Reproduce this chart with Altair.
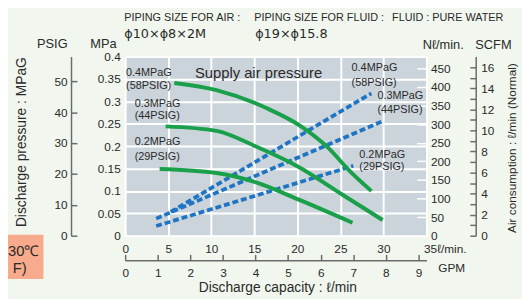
import altair as alt
import pandas as pd

# ---------------- data ----------------
# discharge pressure curves: discharge capacity (l/min) -> discharge pressure (MPa)
q_04 = [5.7, 10.6, 16.4, 20.6, 23.6, 25.8, 28.6]
p_04 = [0.341, 0.325, 0.285, 0.242, 0.196, 0.150, 0.100]
q_03 = [4.7, 10.6, 15.2, 20.1, 25.2, 29.9]
p_03 = [0.244, 0.234, 0.199, 0.154, 0.092, 0.035]
q_02 = [4.0, 10.6, 15.2, 20.1, 26.4]
p_02 = [0.149, 0.140, 0.119, 0.081, 0.029]

# air consumption lines: discharge capacity (l/min) -> air consumption (Nl/min)
aq_04 = [5.3, 28.6]
an_04 = [64, 383]
aq_03 = [3.6, 29.9]
an_03 = [46, 308]
aq_02 = [3.6, 26.5]
an_02 = [26, 188]

# tick values
lpm_ticks = [0, 5, 10, 15, 20, 25, 30, 35]
mpa_ticks = [0, 0.05, 0.1, 0.15, 0.2, 0.25, 0.3, 0.35, 0.4]
psig_ticks = [0, 10, 20, 30, 40, 50]
nl_ticks = [0, 50, 100, 150, 200, 250, 300, 350, 400, 450]
scfm_ticks = list(range(0, 17))
gpm_ticks = list(range(0, 10))

# curve labels (data coords)
ann_text = ["0.4MPaG", "(58PSIG)", "0.3MPaG", "(44PSIG)", "0.2MPaG", "(29PSIG)",
            "0.4MPaG", "(58PSIG)", "0.3MPaG", "(44PSIG)", "0.2MPaG", "(29PSIG)",
            "Supply air pressure"]
ann_q = [0.1, 0.1, 1.1, 1.1, 1.1, 1.1, 26.3, 26.3, 29.3, 29.3, 27.2, 27.2, 8.1]
ann_p = [0.363, 0.334, 0.295, 0.266, 0.209, 0.176, 0.374, 0.341, 0.312, 0.281, 0.180, 0.154, 0.363]
ann_size = [11] * 12 + [15]

# ---------------- styling ----------------
GREEN = "#1aa04a"
BLUE = "#1f74c4"
TXT = "#2a2a2a"
AXC = "#6b6b6b"
FONT = "Liberation Sans, Arial, sans-serif"

W, H = 306, 182
MPA_MAX = 0.4
PSI_PER_MPA = 145.038
NL_MAX = 482
SCFM_MAX = NL_MAX / 28.317
GPM_MAX = 35 / 3.78541

curves = pd.concat([
    pd.DataFrame({"lpm": q_04, "mpa": p_04, "s": "0.4"}),
    pd.DataFrame({"lpm": q_03, "mpa": p_03, "s": "0.3"}),
    pd.DataFrame({"lpm": q_02, "mpa": p_02, "s": "0.2"}),
])
air = pd.concat([
    pd.DataFrame({"lpm": aq_04, "nl": an_04, "s": "0.4"}),
    pd.DataFrame({"lpm": aq_03, "nl": an_03, "s": "0.3"}),
    pd.DataFrame({"lpm": aq_02, "nl": an_02, "s": "0.2"}),
])
ann = pd.DataFrame({"lpm": ann_q, "mpa": ann_p, "t": ann_text, "fs": ann_size})

xs = alt.Scale(domain=[0, 35], nice=False, zero=False)
ys = alt.Scale(domain=[0, MPA_MAX], nice=False, zero=False)
nls = alt.Scale(domain=[0, NL_MAX], nice=False, zero=False)

common_lab = dict(labelFont=FONT, labelColor=TXT, labelFontSize=12, labelFlush=False,
                  labelOverlap=False, title=None)

x_axis = alt.Axis(values=lpm_ticks, grid=True, gridColor="white", gridWidth=2,
                  domain=False, ticks=False, tickSize=0, labelPadding=8,
                  labelExpr="datum.value == 35 ? '35ℓ/min.' : datum.label",
                  labelAlign={"condition": {"test": "datum.value == 35", "value": "left"}, "value": "center"},
                  labelOffset={"condition": {"test": "datum.value == 35", "value": -3}, "value": 0},
                  **common_lab)
y_axis = alt.Axis(values=mpa_ticks, grid=True, gridColor="white", gridWidth=2,
                  domain=False, ticks=False, tickSize=0, labelPadding=5, format="~g",
                  **common_lab)

blue = alt.Chart(air).mark_line(color=BLUE, strokeWidth=3.8, strokeDash=[6, 3]).encode(
    x=alt.X("lpm:Q", scale=xs, axis=None),
    y=alt.Y("nl:Q", scale=nls, axis=alt.Axis(orient="right", values=nl_ticks, domain=False,
                                              ticks=False, tickSize=0, labelPadding=4, grid=False,
                                              **common_lab)),
    detail="s:N",
)

green = alt.Chart(curves).mark_line(color=GREEN, strokeWidth=4, interpolate="monotone").encode(
    x=alt.X("lpm:Q", scale=xs, axis=x_axis),
    y=alt.Y("mpa:Q", scale=ys, axis=y_axis),
    detail="s:N",
)

# PSIG axis (left, ticks pointing right)
psig = alt.Chart(pd.DataFrame({"v": psig_ticks})).mark_point(opacity=0).encode(
    y=alt.Y("v:Q", scale=alt.Scale(domain=[0, MPA_MAX * PSI_PER_MPA], nice=False, zero=False),
            axis=alt.Axis(orient="right", offset=-361, values=psig_ticks, domain=True,
                          domainColor=AXC, domainWidth=1.5, ticks=True, tickColor=AXC,
                          tickWidth=1.5, tickSize=6, labelAlign="right", labelPadding=-10,
                          grid=False, **common_lab)),
)

# Nl/min inner white ticks
nl_ticks_layer = alt.Chart(pd.DataFrame({"v": nl_ticks})).mark_point(opacity=0).encode(
    y=alt.Y("v:Q", scale=nls,
            axis=alt.Axis(orient="left", offset=-W, values=nl_ticks[1:], domain=False,
                          ticks=True, tickColor="white", tickWidth=1.5, tickSize=10,
                          labels=False, grid=False, title=None)),
)

# SCFM axis (right, ticks pointing left)
scfm = alt.Chart(pd.DataFrame({"v": scfm_ticks})).mark_point(opacity=0).encode(
    y=alt.Y("v:Q", scale=alt.Scale(domain=[0, SCFM_MAX], nice=False, zero=False),
            axis=alt.Axis(orient="left", offset=-356, values=scfm_ticks, domain=True,
                          domainColor=AXC, domainWidth=1.5, ticks=True, tickColor=AXC,
                          tickWidth=1.5, tickSize=6, labelAlign="left", labelPadding=-11,
                          labelExpr="datum.value % 2 == 0 ? datum.label : ''",
                          grid=False, **common_lab)),
)

# GPM axis (bottom, ticks pointing up)
gpm = alt.Chart(pd.DataFrame({"v": gpm_ticks})).mark_point(opacity=0).encode(
    x=alt.X("v:Q", scale=alt.Scale(domain=[0, GPM_MAX], nice=False, zero=False),
            axis=alt.Axis(orient="top", offset=-207, values=gpm_ticks, domain=True,
                          domainColor=AXC, domainWidth=1.5, ticks=True, tickColor=AXC,
                          tickWidth=1.5, tickSize=6, labelBaseline="top", labelPadding=-13,
                          grid=False, **common_lab)),
)

labels = alt.Chart(ann).mark_text(align="left", baseline="middle", font=FONT, color=TXT).encode(
    x=alt.X("lpm:Q", scale=xs, axis=None),
    y=alt.Y("mpa:Q", scale=ys, axis=None),
    text="t:N",
    size=alt.Size("fs:Q", scale=None, legend=None),
)


def txt(text, x, y, size=12, align="center", angle=0, font=FONT):
    return alt.Chart(alt.Data(values=[{"t": text}])).mark_text(
        align=align, baseline="middle", fontSize=size, angle=angle, font=font, color=TXT
    ).encode(x=alt.value(x), y=alt.value(y), text="t:N")


box = alt.Chart(alt.Data(values=[{"a": 1}])).mark_rect(color="#f7aa8c").encode(
    x=alt.value(-130), x2=alt.value(-83), y=alt.value(181), y2=alt.value(226)
)

DJ = "DejaVu Sans, sans-serif"
texts = [
    txt("PIPING SIZE FOR AIR :", -1, -39, 11, "left"),
    txt("ϕ10×ϕ8×2M", -1, -23, 13, "left", font=DJ),
    txt("PIPING SIZE FOR FLUID :", 131, -39, 11, "left"),
    txt("ϕ19×ϕ15.8", 132, -23, 13, "left", font=DJ),
    txt("FLUID : PURE WATER", 271, -39, 11, "left"),
    txt("PSIG", -74, -13, 13),
    txt("MPa", -22, -13, 13),
    txt("Nℓ/min.", 323, -12, 13),
    txt("SCFM", 374, -12, 13),
    txt("GPM", 318, 215, 12, "left"),
    txt("Discharge capacity : ℓ/min", 155, 235, 14),
    txt("Discharge pressure : MPaG", -105, 87, 14, angle=270),
    txt("Air consumption : ℓ/min (Normal)", 393, 93, 12, angle=270),
    txt("30℃", -87, 198, 15, "right"),
    txt("F)", -100, 215, 15, "right"),
]

chart = alt.layer(
    box, blue, green, psig, nl_ticks_layer, scfm, gpm, labels, *texts
).resolve_scale(x="independent", y="independent").properties(
    width=W, height=H,
    autosize=alt.AutoSizeParams(type="none"),
    padding={"left": 119, "top": 47, "right": 97, "bottom": 62},
    background="#f1f7ee",
).configure_view(fill="#cad4da", stroke=None)

chart.save("out.html", embed_options={"renderer": "svg", "actions": False})
